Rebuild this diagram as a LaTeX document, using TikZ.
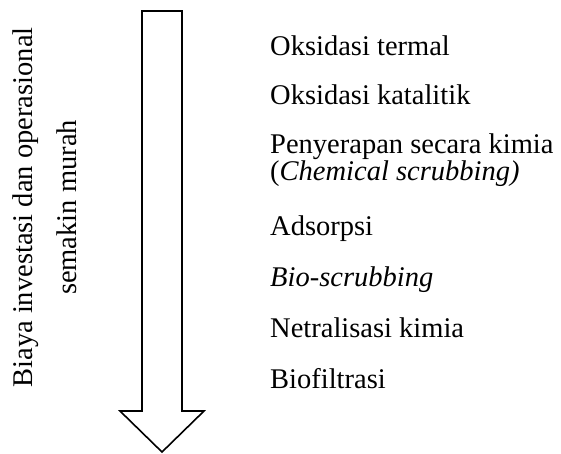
\documentclass[tikz,border=0pt]{standalone}
\usepackage{fontspec}
\setmainfont{Liberation Serif}
\begin{document}
\begin{tikzpicture}[x=1pt,y=-1pt,
  lbl/.style={anchor=base west,inner sep=0pt,font=\fontsize{28.5}{33}\selectfont},
  vlbl/.style={anchor=base,rotate=90,inner sep=0pt,font=\fontsize{28.5}{33}\selectfont},
  bigarrow/.style={draw=black,line width=1.6pt,line join=miter,fill=white}]
\useasboundingbox (0,0) rectangle (561,453);
% arrow
\draw[bigarrow] (142,11) -- (182,11) -- (182,411) -- (204,411) -- (162,452) -- (120,411) -- (142,411) -- cycle;
% vertical label
\node[vlbl] (v1) at (32,207.5) {Biaya investasi dan operasional};
\node[vlbl] (v2) at (76,207.5) {semakin murah};
% list
\node[lbl] (t1) at (270,55) {Oksidasi termal};
\node[lbl] (t2) at (270,104) {Oksidasi katalitik};
\node[lbl] (t3) at (270,153) {Penyerapan secara kimia};
\node[lbl] (t3b) at (270,180) {(\textit{Chemical scrubbing)}};
\node[lbl] (t4) at (270,235) {Adsorpsi};
\node[lbl] (t5) at (270,286) {\textit{Bio-scrubbing}};
\node[lbl] (t6) at (270,337) {Netralisasi kimia};
\node[lbl] (t7) at (270,388) {Biofiltrasi};
\end{tikzpicture}
\end{document}
